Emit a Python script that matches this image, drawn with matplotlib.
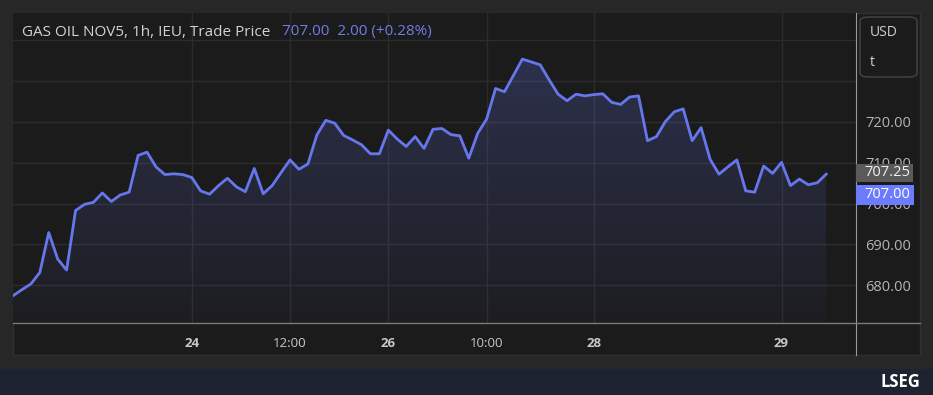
import numpy as np
import matplotlib.pyplot as plt
from matplotlib.patches import Rectangle, FancyBboxPatch
from matplotlib.lines import Line2D

plt.rcParams['font.family'] = ['Open Sans', 'DejaVu Sans']

# hourly trade prices
price = [677.4, 678.9, 680.3, 683.1, 692.9, 686.4, 683.7, 698.3, 699.8, 700.3,
         702.6, 700.5, 702.1, 702.8, 711.8, 712.6, 709.0, 707.1, 707.3, 707.1,
         706.4, 703.1, 702.3, 704.4, 706.2, 704.1, 702.9, 708.6, 702.4, 704.4,
         707.6, 710.7, 708.4, 709.7, 716.8, 720.4, 719.7, 716.7, 715.6, 714.4,
         712.2, 712.2, 718.0, 715.8, 714.0, 716.4, 713.5, 718.2, 718.4, 716.9,
         716.6, 711.1, 717.2, 720.7, 728.2, 727.4, 731.4, 735.4, 734.7, 734.0,
         730.3, 726.8, 725.2, 726.8, 726.4, 726.7, 726.9, 724.8, 724.3, 726.1,
         726.4, 715.4, 716.4, 720.1, 722.5, 723.2, 715.4, 718.6, 710.9, 707.2,
         709.0, 710.7, 703.1, 702.8, 709.2, 707.4, 710.1, 704.4, 706.0, 704.6,
         705.1, 707.2]
x_ticks = [20, 31, 42, 53, 65, 86]
x_labels = ['24', '12:00', '26', '10:00', '28', '29']
x_bold = [True, False, True, False, True, True]
y_ticks = [680, 690, 700, 710, 720, 730, 740]
y_labels = ['680.00', '690.00', '700.00', '710.00', '720.00', '', '']

W, H = 933, 395
line_col = '#6677ee'
bg = '#1b1b1b'

def fx(px):
    return px / W

def fy(py):
    return 1 - py / H

fig = plt.figure(figsize=(W / 100, H / 100), dpi=100, facecolor='#272727')

# chart panel and bottom band (behind the axes)
fig.patches.append(Rectangle((fx(13), fy(355)), fx(920) - fx(13), fy(13) - fy(355),
                             transform=fig.transFigure, facecolor=bg, edgecolor='#303030', lw=1, zorder=-2))
fig.patches.append(Rectangle((0, 0), 1, fy(369), transform=fig.transFigure,
                             facecolor='#1e2331', edgecolor='none', zorder=-2))

ax = fig.add_axes([fx(13), fy(322.7), fx(855.7) - fx(13), fy(13) - fy(322.7)])
ax.set_facecolor(bg)
x = np.arange(len(price))
ax.set_xlim(0, 94.3)
ax.set_ylim(670.8, 746.7)

# gradient fill under the line
poly = ax.fill_between(x, price, 670.8, color='none', lw=0)
grad = np.linspace(0.24, 0.03, 256).reshape(-1, 1)
rgba = np.zeros((256, 1, 4))
rgba[:, :, 0], rgba[:, :, 1], rgba[:, :, 2] = 0.40, 0.47, 0.93
rgba[:, :, 3] = grad
im = ax.imshow(rgba, extent=[0, len(price) - 1, 670.8, 736], aspect='auto', origin='upper', zorder=1)
im.set_clip_path(poly.get_paths()[0], transform=ax.transData)
ax.set_xlim(0, 94.3)
ax.set_ylim(670.8, 746.7)
ax.plot(x, price, color=line_col, lw=2, zorder=3, solid_joinstyle='round')

ax.set_xticks(x_ticks)
ax.set_xticklabels(x_labels, fontsize=9.5, color='#c8c8c8')
for lab, b in zip(ax.get_xticklabels(), x_bold):
    if b:
        lab.set_fontweight('bold')
ax.yaxis.tick_right()
ax.set_yticks(y_ticks)
ax.set_yticklabels(y_labels, fontsize=10.5, color='#b4b4b4')
ax.tick_params(axis='x', length=0, pad=10)
ax.tick_params(axis='y', length=0, pad=7)
ax.grid(color='#2c2c2c', lw=1)
ax.set_axisbelow(True)
for s in ax.spines.values():
    s.set_visible(False)

# axis separator lines
fig.add_artist(Line2D([fx(855.7), fx(855.7)], [fy(355), fy(13)], color='#9a9a9a', lw=0.8))
fig.add_artist(Line2D([fx(13), fx(920)], [fy(322.7), fy(322.7)], color='#7a7a7a', lw=1))

# header
fig.text(fx(22), fy(32), 'GAS OIL NOV5, 1h, IEU, Trade Price', fontsize=11, color='#d2d2d2', va='center')
fig.text(fx(282), fy(32), '707.00  2.00 (+0.28%)', fontsize=11, color='#6f7de6', va='center')

# currency box
fig.patches.append(FancyBboxPatch((fx(860), fy(77)), fx(917) - fx(860), fy(17) - fy(77),
                                  boxstyle='round,pad=0,rounding_size=0.01', transform=fig.transFigure,
                                  facecolor=bg, edgecolor='#454545', lw=1, zorder=2))
fig.text(fx(870), fy(33), 'USD', fontsize=10, color='#d0d0d0', va='center')
fig.text(fx(870), fy(62), 't', fontsize=10, color='#d0d0d0', va='center')

# last price boxes
fig.patches.append(Rectangle((fx(856), fy(182)), fx(913) - fx(856), fy(164) - fy(182),
                             transform=fig.transFigure, facecolor='#5a5a5a', edgecolor='none', zorder=5))
fig.text(fx(887), fy(173), '707.25', fontsize=10.5, color='#f0f0f0', ha='center', va='center', zorder=6)
fig.patches.append(Rectangle((fx(856), fy(205)), fx(914) - fx(856), fy(185) - fy(205),
                             transform=fig.transFigure, facecolor='#6b7cff', edgecolor='none', zorder=5))
fig.text(fx(887), fy(195), '707.00', fontsize=10.5, color='#ffffff', ha='center', va='center', zorder=6)

# footer brand
fig.text(fx(920), fy(382), 'LSEG', fontsize=12, color='#ffffff', fontweight='bold', ha='right', va='center')

fig.savefig('out.png', dpi=100, facecolor=fig.get_facecolor())
